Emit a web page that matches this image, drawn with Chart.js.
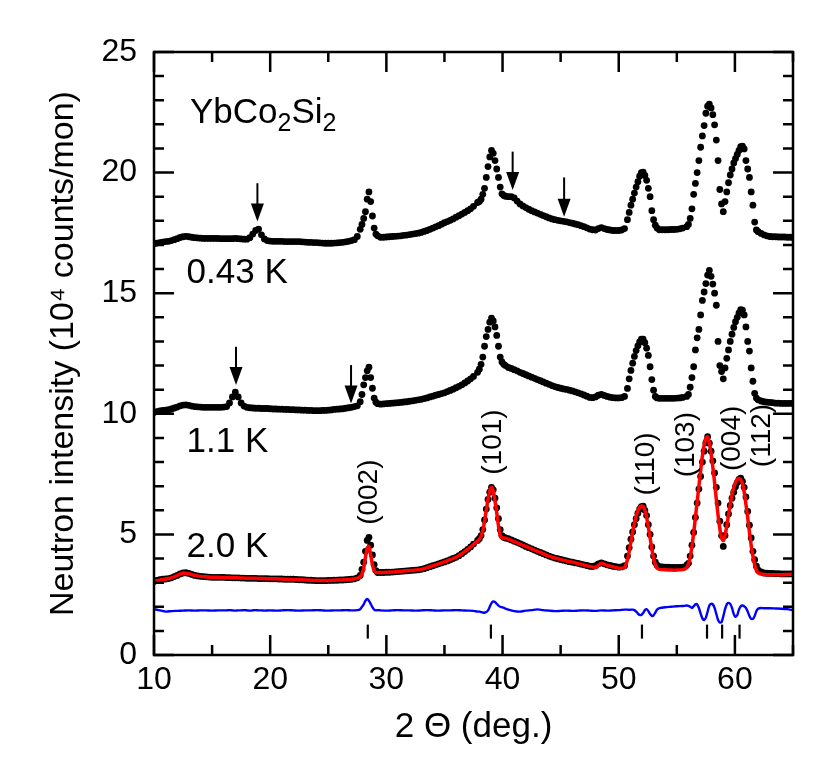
<!DOCTYPE html>
<html><head><meta charset="utf-8">
<script src="https://cdn.jsdelivr.net/npm/chart.js@4.4.0/dist/chart.umd.min.js"></script>
<style>html,body{margin:0;padding:0;background:#fff;}</style>
</head><body>
<canvas id="c" width="830" height="777"></canvas>
<script>
// 2Θ grid (deg.) of the measured points
const dotAngles = [
  10, 10.25, 10.5, 10.75, 11, 11.25, 11.5, 11.75, 12, 12.25, 12.5, 12.75, 13, 13.25, 13.5, 13.75, 14, 14.25, 14.5, 14.75, 15, 15.25, 15.5, 15.75, 16,
  16.25, 16.5, 16.75, 17, 17.25, 17.5, 17.75, 18, 18.25, 18.5, 18.75, 19, 19.25, 19.5,
  19.75, 20, 20.25, 20.5, 20.75, 21, 21.25, 21.5, 21.75, 22, 22.25, 22.5, 22.75, 23, 23.25, 23.5, 23.75, 24, 24.25, 24.5, 24.75, 25, 25.25, 25.5, 25.75, 26, 26.25, 26.5, 26.75, 27, 27.25, 27.5,
  27.75, 27.9, 28.05, 28.2, 28.35, 28.5, 28.65, 28.8, 28.95, 29.1, 29.25, 29.5,
  29.75, 30, 30.25, 30.5, 30.75, 31, 31.25, 31.5, 31.75, 32, 32.25, 32.5, 32.75, 33, 33.25, 33.5, 33.75, 34, 34.25, 34.5, 34.75, 35, 35.25, 35.5, 35.75, 36, 36.25, 36.5, 36.75, 37, 37.25, 37.5,
  37.85, 38, 38.15, 38.3, 38.45, 38.6, 38.75, 38.9, 39.05, 39.2, 39.35, 39.5, 39.65, 39.8, 39.95, 40.1, 40.25,
  40.5, 40.75, 41, 41.25, 41.5, 41.75, 42, 42.25, 42.5, 42.75, 43, 43.25, 43.5, 43.75, 44, 44.25, 44.5, 44.75, 45, 45.25, 45.5, 45.75, 46, 46.25, 46.5, 46.75, 47, 47.25, 47.5, 47.75, 48, 48.25, 48.5, 48.75, 49, 49.25, 49.5, 49.75, 50, 50.25, 50.5,
  50.75, 50.9, 51.05, 51.2, 51.35, 51.5, 51.65, 51.8, 51.95, 52.1, 52.25, 52.4, 52.55, 52.7, 52.85, 53, 53.15, 53.3,
  53.5, 53.75, 54, 54.25, 54.5, 54.75, 55, 55.25, 55.5,
  55.85, 56, 56.15, 56.3, 56.45, 56.6, 56.75, 56.9, 57.05, 57.2, 57.35, 57.5, 57.65, 57.8, 57.95, 58.1, 58.25, 58.4, 58.55, 58.7, 58.85, 59, 59.15, 59.3, 59.45, 59.6, 59.75, 59.9, 60.05, 60.2, 60.35, 60.5, 60.65, 60.8, 60.95, 61.1, 61.25, 61.4, 61.55, 61.7, 61.85, 62,
  62.25, 62.5, 62.75, 63, 63.25, 63.5, 63.75, 64, 64.25, 64.5, 64.75, 65
];
// measured intensities (10^4 counts/mon), curves offset as plotted
const int043K = [
  17.05, 17.08, 17.1, 17.12, 17.14, 17.15, 17.18, 17.22, 17.26, 17.31, 17.34, 17.36, 17.34, 17.32, 17.3, 17.29, 17.28, 17.27, 17.27, 17.27, 17.27, 17.27, 17.27, 17.26, 17.26,
  17.26, 17.26, 17.26, 17.27, 17.26, 17.25, 17.24, 17.24, 17.3, 17.45, 17.6, 17.66, 17.42, 17.25,
  17.18, 17.16, 17.15, 17.15, 17.15, 17.15, 17.14, 17.14, 17.14, 17.14, 17.14, 17.14, 17.13, 17.12, 17.11, 17.11, 17.1, 17.1, 17.09, 17.08, 17.07, 17.07, 17.07, 17.08, 17.09, 17.1, 17.11, 17.13, 17.15, 17.18, 17.22, 17.35,
  17.65, 17.85, 18.1, 18.38, 18.9, 19.2, 18.8, 18.2, 17.7, 17.45, 17.38, 17.32,
  17.32, 17.33, 17.34, 17.35, 17.36, 17.37, 17.38, 17.4, 17.41, 17.43, 17.45, 17.47, 17.49, 17.52, 17.56, 17.6, 17.65, 17.7, 17.75, 17.8, 17.86, 17.92, 17.97, 18.02, 18.08, 18.15, 18.21, 18.28, 18.35, 18.42, 18.5, 18.6,
  18.76, 18.8, 18.9, 19.1, 19.35, 19.8, 20.25, 20.65, 20.92, 20.8, 20.5, 20.15, 19.8, 19.4, 19.12, 19.05, 19.02,
  19.0, 19.0, 18.95, 18.82, 18.7, 18.62, 18.55, 18.48, 18.42, 18.37, 18.32, 18.27, 18.22, 18.17, 18.12, 18.08, 18.05, 18.02, 18.0, 17.98, 17.96, 17.93, 17.9, 17.87, 17.84, 17.8, 17.76, 17.71, 17.66, 17.63, 17.62, 17.68, 17.72, 17.68, 17.64, 17.62, 17.6, 17.6, 17.6, 17.62, 17.68,
  18.05, 18.35, 18.65, 18.9, 19.15, 19.4, 19.62, 19.85, 20.0, 20.02, 19.88, 19.68, 19.35, 19.0, 18.42, 18.05, 17.82, 17.7,
  17.63, 17.63, 17.63, 17.63, 17.64, 17.64, 17.65, 17.67, 17.7,
  17.76, 17.85, 18.1, 18.5, 19.1, 19.55, 20.0, 20.5, 21.05, 21.52, 21.95, 22.46, 22.75, 22.84, 22.68, 22.4, 21.98, 21.35, 20.5, 19.3, 18.7, 18.38, 18.8, 19.2, 19.58, 19.9, 20.15, 20.4, 20.58, 20.75, 20.92, 21.08, 21.1, 20.98, 20.5, 20.15, 19.8, 19.2, 18.65, 17.95, 17.62, 17.55,
  17.48, 17.42, 17.38, 17.35, 17.34, 17.34, 17.33, 17.33, 17.33, 17.32, 17.32, 17.31
];
const int11K = [
  10.05, 10.09, 10.12, 10.14, 10.15, 10.17, 10.2, 10.24, 10.28, 10.33, 10.36, 10.37, 10.35, 10.32, 10.3, 10.29, 10.28, 10.27, 10.27, 10.27, 10.27, 10.27, 10.27, 10.27, 10.28,
  10.3, 10.45, 10.7, 10.9, 10.7, 10.45, 10.32, 10.27, 10.25, 10.24, 10.23, 10.23, 10.22, 10.22,
  10.22, 10.21, 10.2, 10.2, 10.19, 10.19, 10.18, 10.18, 10.17, 10.17, 10.16, 10.16, 10.15, 10.15, 10.14, 10.14, 10.13, 10.13, 10.13, 10.14, 10.14, 10.15, 10.16, 10.18, 10.19, 10.2, 10.21, 10.23, 10.25, 10.27, 10.3, 10.33,
  10.5, 10.8, 11.2, 11.5, 11.78, 11.93, 11.5, 11.06, 10.65, 10.48, 10.42, 10.4,
  10.41, 10.42, 10.43, 10.44, 10.45, 10.46, 10.47, 10.49, 10.5, 10.52, 10.54, 10.56, 10.58, 10.6, 10.63, 10.66, 10.7, 10.73, 10.77, 10.8, 10.84, 10.87, 10.92, 10.97, 11.02, 11.08, 11.14, 11.2, 11.28, 11.36, 11.45, 11.55,
  11.72, 11.85, 12.05, 12.35, 12.8, 13.2, 13.5, 13.8, 13.97, 13.85, 13.6, 13.25, 12.8, 12.35, 12.15, 12.05, 12.0,
  11.92, 11.88, 11.83, 11.78, 11.72, 11.67, 11.62, 11.57, 11.52, 11.47, 11.42, 11.37, 11.32, 11.27, 11.22, 11.17, 11.13, 11.09, 11.06, 11.03, 11.01, 10.98, 10.95, 10.91, 10.87, 10.83, 10.78, 10.73, 10.68, 10.67, 10.7, 10.77, 10.8, 10.76, 10.72, 10.69, 10.67, 10.66, 10.66, 10.67, 10.72,
  11.05, 11.45, 11.8, 12.1, 12.38, 12.62, 12.82, 12.98, 13.1, 13.1, 12.95, 12.72, 12.42, 11.95, 11.42, 10.98, 10.72, 10.66,
  10.64, 10.64, 10.64, 10.64, 10.64, 10.64, 10.65, 10.66, 10.68,
  10.72, 10.8, 11.1, 11.5, 11.95, 12.65, 13.15, 13.5, 14.1, 14.7, 15.05, 15.4, 15.75, 15.95, 15.7, 15.38, 15.0, 14.5, 13.0, 12.0, 11.75, 11.45, 11.9, 12.3, 12.65, 13.0, 13.3, 13.58, 13.82, 14.0, 14.18, 14.32, 14.3, 14.1, 13.6, 13.0, 12.6, 11.9, 11.35, 10.85, 10.65, 10.58,
  10.53, 10.5, 10.48, 10.47, 10.46, 10.44, 10.44, 10.43, 10.43, 10.43, 10.43, 10.43
];
const int20K = [
  3.05, 3.09, 3.12, 3.14, 3.15, 3.17, 3.2, 3.25, 3.3, 3.36, 3.4, 3.41, 3.38, 3.34, 3.3, 3.28, 3.26, 3.25, 3.24, 3.23, 3.22, 3.22, 3.22, 3.22, 3.22,
  3.21, 3.21, 3.2, 3.2, 3.2, 3.19, 3.19, 3.18, 3.18, 3.18, 3.18, 3.17, 3.17, 3.17,
  3.17, 3.16, 3.16, 3.16, 3.15, 3.15, 3.14, 3.14, 3.14, 3.14, 3.13, 3.12, 3.12, 3.11, 3.1, 3.1, 3.09, 3.08, 3.08, 3.08, 3.08, 3.09, 3.09, 3.1, 3.1, 3.11, 3.11, 3.12, 3.13, 3.14, 3.16, 3.2,
  3.3, 3.55, 3.85, 4.3, 4.75, 4.88, 4.55, 4.15, 3.75, 3.5, 3.42, 3.42,
  3.42, 3.43, 3.43, 3.44, 3.45, 3.46, 3.47, 3.48, 3.49, 3.5, 3.51, 3.52, 3.53, 3.55, 3.58, 3.62, 3.66, 3.7, 3.74, 3.78, 3.82, 3.86, 3.9, 3.95, 4.0, 4.05, 4.12, 4.2, 4.29, 4.38, 4.48, 4.6,
  4.75, 4.82, 4.95, 5.2, 5.6, 6.05, 6.45, 6.75, 6.95, 6.85, 6.5, 6.1, 5.65, 5.2, 4.95, 4.88, 4.85,
  4.82, 4.77, 4.72, 4.67, 4.62, 4.56, 4.5, 4.45, 4.4, 4.35, 4.3, 4.25, 4.2, 4.15, 4.1, 4.06, 4.02, 3.99, 3.96, 3.93, 3.9, 3.87, 3.85, 3.82, 3.8, 3.77, 3.74, 3.71, 3.68, 3.67, 3.7, 3.78, 3.82, 3.78, 3.74, 3.71, 3.68, 3.66, 3.64, 3.65, 3.7,
  4.1, 4.45, 4.8, 5.1, 5.4, 5.65, 5.88, 6.05, 6.15, 6.17, 6.0, 5.78, 5.4, 5.0, 4.48, 4.1, 3.85, 3.72,
  3.66, 3.65, 3.64, 3.64, 3.63, 3.63, 3.63, 3.63, 3.64,
  3.72, 3.8, 4.1, 4.55, 5.08, 5.7, 6.3, 6.88, 7.4, 8.0, 8.45, 8.8, 9.05, 8.78, 8.45, 8.05, 7.55, 6.95, 6.3, 5.55, 4.95, 4.5, 4.95, 5.4, 5.85, 6.2, 6.5, 6.75, 6.98, 7.15, 7.28, 7.33, 7.2, 6.95, 6.55, 5.95, 5.38, 4.85, 4.3, 3.95, 3.68, 3.52,
  3.45, 3.4, 3.39, 3.38, 3.38, 3.37, 3.37, 3.36, 3.36, 3.36, 3.36, 3.36
];
// 2Θ grid (deg.) of the refinement and difference curves
const lineAngles = [
  10, 10.5, 11, 11.5, 12, 12.5, 13, 13.5, 14, 14.5, 15, 15.5, 16,
  16.25, 16.5, 16.75, 17, 17.25, 17.5, 17.75, 18, 18.25, 18.5, 18.75, 19, 19.25, 19.5,
  20, 20.5, 21, 21.5, 22, 22.5, 23, 23.5, 24, 24.5, 25, 25.5, 26, 26.5, 27, 27.5,
  27.75, 27.9, 28.05, 28.2, 28.35, 28.5, 28.65, 28.8, 28.95, 29.1, 29.25, 29.5,
  30, 30.5, 31, 31.5, 32, 32.5, 33, 33.5, 34, 34.5, 35, 35.5, 36, 36.5, 37, 37.5,
  37.85, 38, 38.15, 38.3, 38.45, 38.6, 38.75, 38.9, 39.05, 39.2, 39.35, 39.5, 39.65, 39.8, 39.95, 40.1, 40.25,
  40.5, 41, 41.5, 42, 42.5, 43, 43.5, 44, 44.5, 45, 45.5, 46, 46.5, 47, 47.5, 48, 48.5, 49, 49.5, 50, 50.5,
  50.75, 50.9, 51.05, 51.2, 51.35, 51.5, 51.65, 51.8, 51.95, 52.1, 52.25, 52.4, 52.55, 52.7, 52.85, 53, 53.15, 53.3,
  53.5, 54, 54.5, 55, 55.5,
  55.85, 56, 56.15, 56.3, 56.45, 56.6, 56.75, 56.9, 57.05, 57.2, 57.35, 57.5, 57.65, 57.8, 57.95, 58.1, 58.25, 58.4, 58.55, 58.7, 58.85, 59, 59.15, 59.3, 59.45, 59.6, 59.75, 59.9, 60.05, 60.2, 60.35, 60.5, 60.65, 60.8, 60.95, 61.1, 61.25, 61.4, 61.55, 61.7, 61.85, 62,
  62.25, 62.5, 63, 63.5, 64, 64.5, 65
];
const fit20K = [
  3.06, 3.1, 3.15, 3.2, 3.3, 3.4, 3.37, 3.3, 3.26, 3.24, 3.22, 3.22, 3.21,
  3.21, 3.21, 3.2, 3.2, 3.2, 3.19, 3.19, 3.18, 3.18, 3.18, 3.18, 3.17, 3.17, 3.17,
  3.16, 3.16, 3.15, 3.14, 3.13, 3.12, 3.11, 3.1, 3.09, 3.09, 3.09, 3.1, 3.11, 3.12, 3.14, 3.18,
  3.25, 3.35, 3.6, 4.05, 4.45, 4.5, 4.15, 3.75, 3.5, 3.42, 3.42, 3.42,
  3.43, 3.44, 3.46, 3.48, 3.5, 3.52, 3.55, 3.62, 3.7, 3.78, 3.86, 3.95, 4.05, 4.2, 4.38, 4.58,
  4.72, 4.8, 4.92, 5.15, 5.55, 6.0, 6.45, 6.8, 6.95, 6.8, 6.4, 5.9, 5.35, 4.95, 4.85, 4.85, 4.84,
  4.8, 4.7, 4.6, 4.5, 4.4, 4.3, 4.2, 4.1, 4.02, 3.96, 3.9, 3.85, 3.79, 3.73, 3.67, 3.64, 3.8, 3.72, 3.66, 3.6, 3.63,
  3.95, 4.3, 4.7, 5.1, 5.45, 5.75, 5.98, 6.12, 6.18, 6.15, 6.0, 5.72, 5.3, 4.85, 4.4, 4.0, 3.75, 3.6,
  3.55, 3.53, 3.52, 3.52, 3.54,
  3.62, 3.78, 4.05, 4.5, 5.05, 5.7, 6.35, 7.0, 7.65, 8.25, 8.7, 9.0, 9.05, 8.8, 8.35, 7.8, 7.15, 6.45, 5.8, 5.25, 4.85, 4.74, 4.95, 5.35, 5.8, 6.25, 6.65, 6.95, 7.15, 7.28, 7.32, 7.28, 7.1, 6.75, 6.25, 5.7, 5.1, 4.55, 4.1, 3.75, 3.52, 3.4,
  3.36, 3.34, 3.33, 3.33, 3.33, 3.34, 3.35
];
const diff20K = [
  1.9, 1.85, 1.8, 1.82, 1.83, 1.84, 1.85, 1.84, 1.85, 1.85, 1.84, 1.85, 1.85,
  1.85, 1.86, 1.85, 1.84, 1.85, 1.85, 1.86, 1.85, 1.84, 1.85, 1.86, 1.85, 1.85, 1.84,
  1.85, 1.84, 1.85, 1.86, 1.85, 1.84, 1.85, 1.85, 1.86, 1.85, 1.84, 1.85, 1.85, 1.86, 1.85, 1.86,
  1.9, 2.0, 2.1, 2.25, 2.32, 2.25, 2.12, 1.98, 1.88, 1.85, 1.86, 1.85,
  1.84, 1.85, 1.86, 1.85, 1.85, 1.84, 1.85, 1.86, 1.85, 1.84, 1.85, 1.85, 1.86, 1.85, 1.84, 1.83,
  1.8, 1.8, 1.78, 1.76, 1.75, 1.78, 1.85, 2.0, 2.15, 2.22, 2.2, 2.12, 2.05, 2.0, 1.98, 1.96, 1.92,
  1.88, 1.82, 1.8, 1.84, 1.86, 1.89, 1.86, 1.84, 1.82, 1.83, 1.84, 1.83, 1.84, 1.85, 1.84, 1.83, 1.85, 1.84, 1.85, 1.86, 1.88,
  1.88, 1.87, 1.88, 1.88, 1.86, 1.8, 1.72, 1.66, 1.66, 1.74, 1.86, 1.9, 1.82, 1.7, 1.62, 1.64, 1.76, 1.88,
  1.94, 1.98, 2.0, 2.02, 2.03,
  2.05, 2.04, 2.0, 1.95, 2.02, 2.1, 2.1, 1.95, 1.72, 1.52, 1.45, 1.55, 1.8, 2.05, 2.12, 2.1, 1.95, 1.7, 1.45, 1.35, 1.36, 1.6, 1.9, 2.1, 2.16, 2.12, 1.95, 1.7, 1.58, 1.65, 1.88, 2.02, 2.05, 2.02, 1.95, 1.8, 1.62, 1.5, 1.5, 1.62, 1.82, 1.92,
  1.95, 1.94, 1.94, 1.93, 1.92, 1.9, 1.86
];
// Bragg reflection positions and labels
const braggPeaks = [28.4, 39.0, 52.0, 57.6, 58.9, 60.4];
const braggTickY = 0.97;
const hklLabels = ['(002)', '(101)', '(110)', '(103)', '(004)', '(112)'];
const hklX = [28.55, 39.18, 52.35, 55.85, 59.8, 62.33];
const hklY = [6.75, 8.83, 7.92, 8.72, 8.98, 9.1];
// magnetic-peak arrows
const arrowX = [18.9, 40.87, 45.3, 17.06, 26.96];
const arrowTop = [19.56, 20.87, 19.8, 12.78, 12.02];
const arrowTip = [17.97, 19.28, 18.17, 11.19, 10.43];
// temperature labels
const tempLabels = ['0.43 K', '1.1 K', '2.0 K'];
const tempX = 12.8;
const tempY = [15.42, 8.42, 4.06];
const compoundX = 13.1, compoundY = 22.06;

const FONT = '"Liberation Sans", Arial, Helvetica, sans-serif';
const pts = (xs, ys) => xs.map((a, i) => ({x: a, y: ys[i]}));

const decorPlugin = {
  id: 'decor',
  afterDatasetsDraw(chart) {
    const ctx = chart.ctx, xs = chart.scales.x, ys = chart.scales.y;
    const {left, right, top, bottom} = chart.chartArea;
    ctx.save();
    ctx.strokeStyle = '#000'; ctx.fillStyle = '#000'; ctx.lineWidth = 2.5; ctx.lineCap = 'butt';
    // inward ticks on all four sides
    ctx.beginPath();
    for (let v = xs.min; v <= xs.max + 1e-9; v += 5) {
      const p = xs.getPixelForValue(v), len = (v % 10 === 0) ? 20 : 10;
      ctx.moveTo(p, bottom); ctx.lineTo(p, bottom - len);
      ctx.moveTo(p, top); ctx.lineTo(p, top + len);
    }
    for (let v = ys.min; v <= ys.max + 1e-9; v += 1) {
      const p = ys.getPixelForValue(v), len = (v % 5 === 0) ? 20 : 10;
      ctx.moveTo(left, p); ctx.lineTo(left + len, p);
      ctx.moveTo(right, p); ctx.lineTo(right - len, p);
    }
    ctx.stroke();
    ctx.strokeRect(left, top, right - left, bottom - top);
    // arrows
    ctx.lineWidth = 2;
    arrowX.forEach((ax, i) => {
      const px = xs.getPixelForValue(ax), y0 = ys.getPixelForValue(arrowTop[i]), y1 = ys.getPixelForValue(arrowTip[i]);
      ctx.beginPath(); ctx.moveTo(px, y0); ctx.lineTo(px, y1 - 16); ctx.stroke();
      ctx.beginPath(); ctx.moveTo(px - 6.5, y1 - 18); ctx.lineTo(px + 6.5, y1 - 18); ctx.lineTo(px, y1); ctx.closePath(); ctx.fill();
    });
    // temperature labels
    ctx.font = '35px ' + FONT; ctx.textAlign = 'left'; ctx.textBaseline = 'alphabetic';
    tempLabels.forEach((t, i) => ctx.fillText(t, xs.getPixelForValue(tempX), ys.getPixelForValue(tempY[i])));
    // compound name with subscripts
    let cx = xs.getPixelForValue(compoundX); const cy = ys.getPixelForValue(compoundY);
    const parts = [['YbCo', false], ['2', true], ['Si', false], ['2', true]];
    parts.forEach(([s, sub]) => {
      ctx.font = (sub ? '25px ' : '35px ') + FONT;
      ctx.fillText(s, cx, sub ? cy + 8 : cy);
      cx += ctx.measureText(s).width;
    });
    // hkl labels, rotated
    ctx.font = '28px ' + FONT; ctx.textAlign = 'center'; ctx.textBaseline = 'middle';
    hklLabels.forEach((t, i) => {
      ctx.save();
      ctx.translate(xs.getPixelForValue(hklX[i]), ys.getPixelForValue(hklY[i]));
      ctx.rotate(-Math.PI / 2);
      ctx.fillText(t, 0, 0);
      ctx.restore();
    });
    ctx.restore();
  }
};

new Chart(document.getElementById('c'), {
  type: 'scatter',
  data: {
    datasets: [
      {label: 'fit 2.0 K', data: pts(lineAngles, fit20K), showLine: true, borderColor: '#ff0000', borderWidth: 3.5, pointRadius: 0, tension: 0.2},
      {label: 'diff 2.0 K', data: pts(lineAngles, diff20K), showLine: true, borderColor: '#0000ff', borderWidth: 2.4, pointRadius: 0, tension: 0.2},
      {label: 'Bragg', data: braggPeaks.map(b => ({x: b, y: braggTickY})), pointStyle: 'line', rotation: 90, pointRadius: 7, borderColor: '#000', borderWidth: 2.2},
      {label: '2.0 K', data: pts(dotAngles, int20K), pointRadius: 3.4, backgroundColor: '#000', borderWidth: 0},
      {label: '1.1 K', data: pts(dotAngles, int11K), pointRadius: 3.4, backgroundColor: '#000', borderWidth: 0},
      {label: '0.43 K', data: pts(dotAngles, int043K), pointRadius: 3.4, backgroundColor: '#000', borderWidth: 0}
    ]
  },
  options: {
    responsive: false, animation: false, devicePixelRatio: 1,
    layout: {padding: {top: 52, right: 37, left: 0, bottom: 0}},
    plugins: {legend: {display: false}, tooltip: {enabled: false}},
    scales: {
      x: {
        type: 'linear', min: 10, max: 65,
        grid: {display: false, drawTicks: false}, border: {display: false},
        ticks: {stepSize: 10, color: '#000', font: {family: FONT, size: 32}, padding: 6, maxRotation: 0},
        afterBuildTicks: s => { s.ticks = s.ticks.filter(t => t.value % 10 === 0); },
        title: {display: true, text: '2 Θ (deg.)', color: '#000', font: {family: FONT, size: 35}, padding: {top: 0, bottom: 29}},
        afterFit: s => { s.height = 122; }
      },
      y: {
        type: 'linear', min: 0, max: 25,
        grid: {display: false, drawTicks: false}, border: {display: false},
        ticks: {stepSize: 5, color: '#000', font: {family: FONT, size: 32}, padding: 17},
        title: {display: true, text: 'Neutron intensity (10⁴ counts/mon)', color: '#000', font: {family: FONT, size: 34}, padding: {top: 43, bottom: 0}},
        afterFit: s => { s.width = 154; }
      }
    }
  },
  plugins: [decorPlugin]
});
</script>
</body></html>
